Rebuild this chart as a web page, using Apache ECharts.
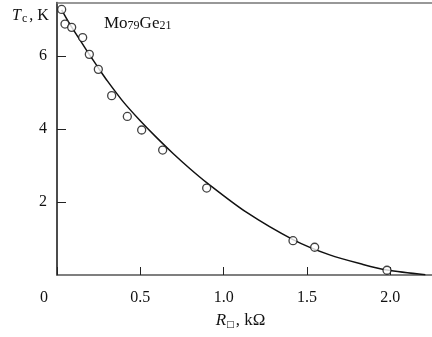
<!DOCTYPE html>
<html><head><meta charset="utf-8">
<script src="https://cdn.jsdelivr.net/npm/echarts@6/dist/echarts.min.js"></script>
<style>html,body{margin:0;padding:0;background:#fff}#c{width:432px;height:337px}</style>
</head><body><div id="c"></div>
<script>
// Measured points: sheet resistance (kΩ) vs Tc (K)
const pointR  = [0.028, 0.048, 0.088, 0.154, 0.194, 0.248, 0.328, 0.422, 0.508, 0.634, 0.898, 1.416, 1.546, 1.98];
const pointTc = [7.27, 6.87, 6.78, 6.50, 6.04, 5.63, 4.91, 4.34, 3.97, 3.42, 2.38, 0.94, 0.76, 0.13];
// Fitted curve
const curveR  = [0.028, 0.078, 0.148, 0.198, 0.248, 0.298, 0.398, 0.498, 0.598, 0.698, 0.798, 0.898, 1.136, 1.416, 1.636, 1.836, 1.98, 2.21];
const curveTc = [7.26, 6.86, 6.36, 6.01, 5.67, 5.34, 4.74, 4.23, 3.76, 3.32, 2.91, 2.53, 1.72, 0.97, 0.55, 0.29, 0.14, 0.01];
const xTicks = [0, 0.5, 1.0, 1.5, 2.0];
const yTicks = [2, 4, 6];

const font = 'Liberation Serif';
const C = '#111';
const chart = echarts.init(document.getElementById('c'), null, {renderer: 'canvas'});
chart.setOption({
  animation: false,
  title: [
    {text: '{i|T}{s|c}{n|, K}', left: 7, top: 2,
     textStyle: {rich: {
       i: {fontFamily: font, fontStyle: 'italic', fontWeight: 'normal', fontSize: 16, color: C, padding: [0, 1, 0, 0]},
       s: {fontFamily: font, fontWeight: 'normal', fontSize: 12, color: C, padding: [6, 2, 0, 0]},
       n: {fontFamily: font, fontWeight: 'normal', fontSize: 16, color: C}}}},
    {text: '{n|Mo}{s|79}{n|Ge}{s|21}', left: 99, top: 10,
     textStyle: {rich: {
       n: {fontFamily: font, fontWeight: 'normal', fontSize: 17, color: C},
       s: {fontFamily: font, fontWeight: 'normal', fontSize: 12, color: C, padding: [5, 0, 0, 0]}}}}
  ],
  grid: {left: 57, right: 0, top: 2.5, bottom: 62, containLabel: false},
  xAxis: [{
    type: 'value', min: 0, max: 2.25,
    axisLine: {show: true, lineStyle: {color: '#555', width: 1.5}},
    axisTick: {show: true, inside: true, length: 8, customValues: xTicks, lineStyle: {color: '#222', width: 1}},
    axisLabel: {customValues: xTicks, margin: 15, fontFamily: font, fontSize: 16, color: C,
      formatter: v => v === 0 ? '{z|0}' : v.toFixed(1),
      rich: {z: {fontFamily: font, fontSize: 16, color: C, padding: [0, 26, 0, 0]}}},
    splitLine: {show: false},
    name: '{i|R}{s|□}{n|, kΩ}', nameLocation: 'middle', nameGap: 37,
    nameTextStyle: {padding: [0, 8, 0, 0], rich: {
      i: {fontFamily: font, fontStyle: 'italic', fontSize: 17, color: C},
      s: {fontFamily: 'DejaVu Sans', fontSize: 9, color: C, padding: [8, 1, 0, 0]},
      n: {fontFamily: font, fontSize: 17, color: C}}}
  }, {
    type: 'value', min: 0, max: 2.25, position: 'top',
    axisLine: {show: true, lineStyle: {color: '#777', width: 1.5}},
    axisTick: {show: false}, axisLabel: {show: false}, splitLine: {show: false}
  }],
  yAxis: {
    type: 'value', min: 0, max: 7.46,
    axisLine: {show: true, lineStyle: {color: C, width: 1.5}},
    axisTick: {show: true, inside: true, length: 9, customValues: yTicks, lineStyle: {color: '#222', width: 1}},
    axisLabel: {customValues: yTicks, margin: 10, fontFamily: font, fontSize: 16, color: C},
    splitLine: {show: false}
  },
  series: [
    {type: 'line', data: curveR.map((r, i) => [r, curveTc[i]]), smooth: 0.3, showSymbol: false,
     lineStyle: {color: C, width: 1.5}, z: 2, silent: true},
    {type: 'scatter', data: pointR.map((r, i) => [r, pointTc[i]]), symbol: 'circle', symbolSize: 8,
     itemStyle: {color: '#fff', borderColor: C, borderWidth: 1.3}, z: 3}
  ]
});
</script></body></html>
